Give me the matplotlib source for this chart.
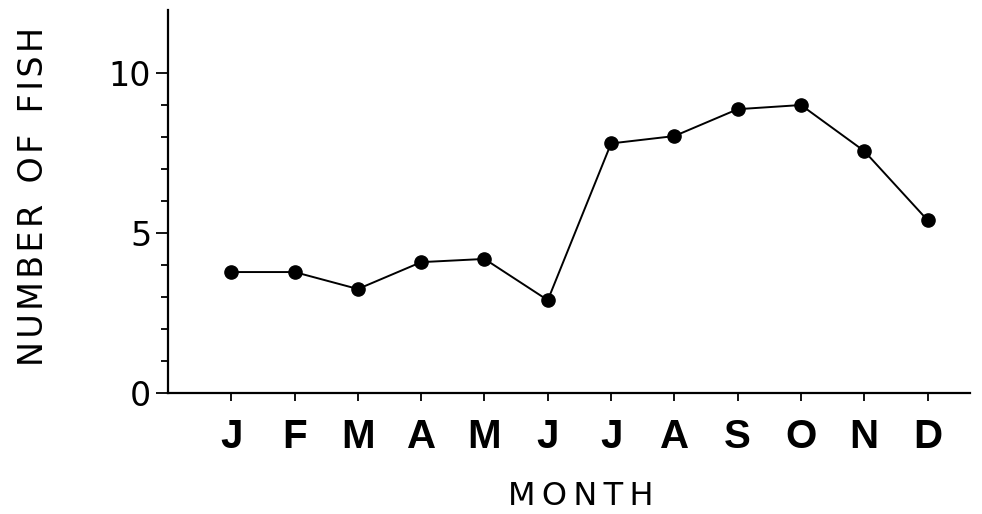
import matplotlib
matplotlib.use("Agg")
import matplotlib.pyplot as plt

months = ["J", "F", "M", "A", "M", "J", "J", "A", "S", "O", "N", "D"]
fish_counts = [3.78, 3.78, 3.25, 4.09, 4.19, 2.9, 7.8, 8.03, 8.87, 9.0, 7.56, 5.4]
y_ticks = [0, 5, 10]
y_minor_ticks = [1, 2, 3, 4, 6, 7, 8, 9]

W, H = 982, 514
fig = plt.figure(figsize=(W / 100, H / 100), dpi=100)
ax = fig.add_axes([168 / W, (H - 393) / H, (970 - 168) / W, (393 - 10) / H])

x = list(range(len(months)))
ax.plot(x, fish_counts, color="black", lw=1.4, marker="o", ms=9.5,
        markerfacecolor="black", markeredgecolor="black")

ax.set_xlim(-1, 11.67)
ax.set_ylim(0, 11.97)

ax.spines["top"].set_visible(False)
ax.spines["right"].set_visible(False)
for s in ("left", "bottom"):
    ax.spines[s].set_linewidth(1.6)

ax.set_xticks(x)
ax.set_xticklabels(months, fontsize=29, fontweight="bold", family="Liberation Sans")
ax.tick_params(axis="x", direction="out", length=6, width=1.3, pad=12)

ax.set_yticks(y_ticks)
ax.set_yticklabels([str(v) for v in y_ticks], fontsize=24, family="DejaVu Sans")
ax.set_yticks(y_minor_ticks, minor=True)
ax.tick_params(axis="y", which="major", direction="out", length=9, width=1.3, pad=3)
ax.tick_params(axis="y", which="minor", direction="out", length=5, width=1.3)

hair = "\u200a"
thin = "\u2009"
ax.set_xlabel(thin.join("MONTH"), fontsize=23, family="DejaVu Sans")
ax.xaxis.set_label_coords(0.515, -0.229)

ylabel = "  ".join(hair.join(w) for w in ["NUMBER", "OF", "FISH"])
ax.set_ylabel(ylabel, fontsize=24, family="DejaVu Sans")
ax.yaxis.set_label_coords(-0.147, 0.512)

fig.savefig("out.png", dpi=100)
